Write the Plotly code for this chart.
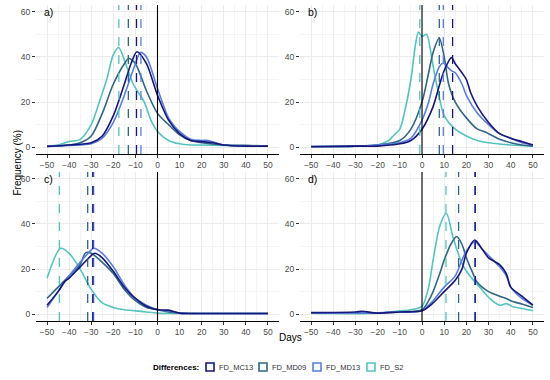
import plotly.graph_objects as go

# ---------------- data ----------------
series_names = ["FD_MC13", "FD_MD09", "FD_MD13", "FD_S2"]
series_colors = ["#17177a", "#2f6784", "#5a7ee0", "#55c4c0"]
panel_labels = ["a)", "b)", "c)", "d)"]
x_ticks = [-50, -40, -30, -20, -10, 0, 10, 20, 30, 40, 50]
y_ticks = [0, 20, 40, 60]

# panel a
a_MC13_x = [-50, -40, -30, -25, -20, -15, -12, -9.3, -5, 0, 5, 10, 15, 20, 25, 30, 40, 50]
a_MC13_y = [0.3, 1, 2, 5, 14, 28, 37, 42.3, 37, 23, 12, 6, 3, 2.5, 2, 1, 0.5, 0.5]
a_MD09_x = [-50, -40, -35, -30, -25, -20, -15, -13, -10, -5, 0, 5, 10, 15, 20, 30, 40, 50]
a_MD09_y = [0.5, 1, 2, 5, 15, 28, 37, 39.3, 37, 25, 15, 10, 5.5, 3, 2, 1, 0.8, 0.5]
a_MD13_x = [-50, -40, -30, -25, -20, -15, -10, -7.7, -5, 0, 5, 8, 10, 15, 20, 23, 30, 40, 50]
a_MD13_y = [0.3, 0.8, 1.5, 4, 11, 23, 37, 42, 40, 26, 13, 9, 7, 3.5, 3, 3, 1, 0.5, 0.5]
a_S2_x = [-50, -45, -40, -35, -30, -26, -23, -20, -17.6, -14, -11, -6, -3, 0, 5, 10, 15, 20, 30, 40, 50]
a_S2_y = [0.5, 1, 2.5, 3.5, 10, 21, 30, 41, 44.2, 36, 28, 20, 12, 7, 3, 1.5, 1, 1, 0.8, 0.6, 0.5]

# panel b
b_MC13_x = [-50, -30, -20, -10, -5, 0, 5, 8, 10, 13.3, 15, 18, 20, 22, 25, 30, 35, 40, 45, 50]
b_MC13_y = [0.2, 0.5, 0.5, 1.5, 3, 8, 18, 28, 34, 39.7, 37, 33, 30, 24, 18, 11, 6, 4, 2.5, 1]
b_MD09_x = [-50, -30, -20, -10, -5, 0, 3, 5, 7.8, 10, 12, 15, 20, 25, 28, 30, 35, 40, 45, 50]
b_MD09_y = [0.3, 0.5, 1, 3, 8, 20, 33, 42, 48.4, 40, 28, 20, 13, 8, 7, 6, 3.5, 2, 1, 0.5]
b_MD13_x = [-50, -30, -20, -10, -5, 0, 3, 5, 8, 9.6, 13, 15, 18, 20, 25, 30, 35, 40, 45, 50]
b_MD13_y = [0.3, 0.5, 1, 2, 4, 12, 20, 28, 36, 37.2, 34, 33, 28, 23, 15, 10, 6, 4, 2, 1]
b_S2_x = [-50, -30, -20, -15, -13, -10, -8, -5, -3, -1.6, 0, 2, 4, 5, 7, 10, 15, 20, 25, 30, 40, 50]
b_S2_y = [0.3, 0.5, 1, 3, 5, 8, 15, 30, 45, 51, 49, 50, 42, 36, 26, 14, 8, 5, 3, 2, 1, 0.5]

# panel c
c_MC13_x = [-50, -45, -42, -40, -35, -30, -28.4, -25, -20, -15, -10, -5, 0, 5, 10, 20, 30, 40, 50]
c_MC13_y = [4, 10, 14.5, 16, 21, 26, 27, 25, 19, 12, 7, 3.5, 2, 1.8, 0.5, 0.3, 0.3, 0.3, 0.3]
c_MD09_x = [-50, -45, -40, -35, -32.5, -30, -25, -20, -15, -10, -5, 0, 5, 10, 20, 30, 40, 50]
c_MD09_y = [7, 12, 17, 22, 27.3, 27, 23, 18, 11, 6, 3, 2, 1, 0.5, 0.3, 0.3, 0.3, 0.3]
c_MD13_x = [-50, -45, -40, -35, -30, -28.9, -25, -20, -15, -10, -5, 0, 5, 10, 20, 30, 40, 50]
c_MD13_y = [3, 10, 17, 23, 28.5, 29.2, 27, 21, 13, 7, 4, 2, 1.5, 0.5, 0.3, 0.3, 0.3, 0.3]
c_S2_x = [-50, -43.9, -40, -35, -30, -25, -20, -15, -10, -5, 0, 10, 20, 30, 40, 50]
c_S2_y = [15.9, 29.2, 27, 20, 11, 5, 3, 2, 1.5, 1, 0.5, 0.3, 0.3, 0.3, 0.3, 0.3]

# panel d
d_MC13_x = [-50, -30, -27, -20, -10, 0, 5, 10, 15, 18, 20, 23.8, 27, 30, 35, 38, 40, 45, 50]
d_MC13_y = [0.7, 1, 1.3, 0.5, 1, 1.5, 5, 10, 15, 20, 27, 32.9, 29, 25, 22, 18, 12, 8, 4]
d_MD09_x = [-50, -30, -10, 0, 3, 5, 8, 10, 13, 15.6, 18, 20, 23, 25, 30, 35, 38, 40, 45, 50]
d_MD09_y = [0.5, 0.5, 1, 2, 6, 10, 18, 24, 31, 34.4, 31, 25, 18, 14, 10, 8, 7, 6, 4.5, 3]
d_MD13_x = [-50, -30, -10, 0, 5, 10, 15, 18, 20, 23.8, 27, 30, 35, 38, 40, 45, 50]
d_MD13_y = [0.5, 0.5, 1, 1.5, 6, 12, 17, 24, 28, 32.1, 29, 26, 21, 17, 12, 7, 4]
d_S2_x = [-50, -40, -20, -10, -5, 0, 3, 5, 8, 11, 14, 18, 21.5, 26, 30.5, 35, 38, 41, 45, 50]
d_S2_y = [0.5, 0.3, 0.5, 1.5, 2, 3.5, 12, 24, 39, 44.7, 34, 22.5, 17, 12, 7, 4, 4.7, 3.3, 2.5, 1.5]

# mean lines (dashed), order: MC13, MD09, MD13, S2
a_means = [-9.5, -13.2, -7.5, -17.5]
b_means = [13.8, 7.8, 9.6, -1.0]
c_means = [-29.3, -31.6, -28.9, -44.4]
d_means = [24.0, 16.5, 23.8, 10.8]

panels = [
    [(a_MC13_x, a_MC13_y), (a_MD09_x, a_MD09_y), (a_MD13_x, a_MD13_y), (a_S2_x, a_S2_y)],
    [(b_MC13_x, b_MC13_y), (b_MD09_x, b_MD09_y), (b_MD13_x, b_MD13_y), (b_S2_x, b_S2_y)],
    [(c_MC13_x, c_MC13_y), (c_MD09_x, c_MD09_y), (c_MD13_x, c_MD13_y), (c_S2_x, c_S2_y)],
    [(d_MC13_x, d_MC13_y), (d_MD09_x, d_MD09_y), (d_MD13_x, d_MD13_y), (d_S2_x, d_S2_y)],
]
panel_means = [a_means, b_means, c_means, d_means]

# ---------------- figure ----------------
W, H = 550, 380
def px_x(p):
    return p / W
def px_y(p):
    return 1 - p / H

x_domains = [[px_x(36), px_x(279)], [px_x(300), px_x(544)],
             [px_x(36), px_x(279)], [px_x(300), px_x(544)]]
y_domains = [[px_y(154), px_y(5)], [px_y(154), px_y(5)],
             [px_y(321), px_y(172)], [px_y(321), px_y(172)]]

fig = go.Figure()
font_family = "Liberation Sans, Arial, sans-serif"

for pi, panel in enumerate(panels):
    ax = "" if pi == 0 else str(pi + 1)
    xa, ya = "x" + ax, "y" + ax
    for si in [3, 1, 2, 0]:
        xs, ys = panel[si]
        fig.add_trace(go.Scatter(
            x=xs, y=ys, mode="lines", xaxis=xa, yaxis=ya,
            line=dict(color=series_colors[si], width=1.6, shape="spline", smoothing=0.8),
            showlegend=False, hoverinfo="skip"))
    for si in [3, 1, 2, 0]:
        m = panel_means[pi][si]
        fig.add_shape(type="line", xref=xa, yref=ya + " domain",
                      x0=m, x1=m, y0=0, y1=1,
                      line=dict(color=series_colors[si], width=1.3, dash="dash"))
    fig.add_shape(type="line", xref=xa, yref=ya + " domain", x0=0, x1=0, y0=0, y1=1,
                  line=dict(color="black", width=1.1))
    fig.add_annotation(text=panel_labels[pi], xref=xa + " domain", yref=ya,
                       x=0.025, y=60, xanchor="left", yanchor="middle", showarrow=False,
                       font=dict(size=10.5, color="black", family=font_family))

    axis_common = dict(showgrid=True, gridcolor="#ebebeb", gridwidth=0.8, zeroline=False,
                       automargin=False,
                       ticks="outside", ticklen=3, tickcolor="#333333", tickwidth=1,
                       tickfont=dict(size=8.5, color="#4d4d4d", family=font_family))
    fig.update_layout(**{
        ("xaxis" + ax): dict(domain=x_domains[pi], range=[-55, 55], tickvals=x_ticks,
                             anchor=ya, showline=True, linecolor="black", linewidth=1,
                             minor=dict(dtick=5, tick0=0, showgrid=True, gridcolor="#f4f4f4",
                                        gridwidth=0.6),
                             **axis_common),
        ("yaxis" + ax): dict(domain=y_domains[pi], range=[-3, 63], tickvals=y_ticks,
                             anchor=xa, showline=False,
                             minor=dict(dtick=10, tick0=0, showgrid=True, gridcolor="#f4f4f4",
                                        gridwidth=0.6),
                             **axis_common),
    })

# manual legend (square keys)
leg_y = px_y(367)
fig.add_annotation(text="<b>Differences:</b>", xref="paper", yref="paper",
                   x=px_x(151), y=leg_y, xanchor="left", yanchor="middle", showarrow=False,
                   font=dict(size=8, color="black", family=font_family))
key_x0 = 210
key_step = [0, 53, 107, 161]
for si, name in enumerate(series_names):
    cx = key_x0 + key_step[si]
    fig.add_shape(type="rect", xref="paper", yref="paper",
                  x0=px_x(cx - 4), x1=px_x(cx + 4), y0=px_y(371), y1=px_y(363),
                  line=dict(color=series_colors[si], width=1.6), fillcolor="#f4fbfb")
    fig.add_annotation(text=name, xref="paper", yref="paper", x=px_x(cx + 7), y=leg_y,
                       xanchor="left", yanchor="middle", showarrow=False,
                       font=dict(size=7.5, color="#333333", family=font_family))

fig.add_annotation(text="Days", xref="paper", yref="paper", x=px_x(290), y=px_y(345),
                   showarrow=False, font=dict(size=10, color="black", family=font_family))
fig.add_annotation(text="Frequency (%)", xref="paper", yref="paper", x=px_x(9), y=px_y(163),
                   textangle=-90, showarrow=False,
                   font=dict(size=10, color="black", family=font_family))

fig.update_layout(
    width=W, height=H, margin=dict(l=0, r=0, t=0, b=0),
    paper_bgcolor="white", plot_bgcolor="white",
    font=dict(family=font_family),
    showlegend=False,
)

fig.write_html("out.html", config={"displayModeBar": False},
               post_script="document.body.style.margin='0';document.body.style.padding='0';")
